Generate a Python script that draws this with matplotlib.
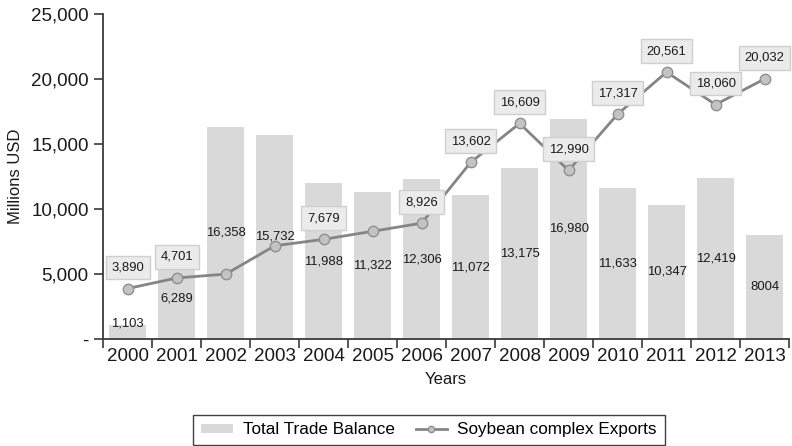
import numpy as np
import matplotlib.pyplot as plt
from matplotlib.ticker import FuncFormatter, FixedLocator

plt.rcParams['font.family'] = ['Liberation Sans', 'DejaVu Sans']

years = [2000, 2001, 2002, 2003, 2004, 2005, 2006, 2007, 2008, 2009, 2010, 2011, 2012, 2013]
trade_balance = [1103, 6289, 16358, 15732, 11988, 11322, 12306, 11072, 13175, 16980, 11633, 10347, 12419, 8004]
soy_exports = [3890, 4701, 5000, 7180, 7679, 8300, 8926, 13602, 16609, 12990, 17317, 20561, 18060, 20032]
# years whose export value gets no label box
unlabelled = [2002, 2003, 2005]

bar_color = "#d9d9d9"
line_color = "#858585"
axis_color = "#3a3a3a"

x = np.arange(len(years))

fig = plt.figure(figsize=(7.92, 4.46), dpi=100)
ax = fig.add_axes([0.1304, 0.2399, 0.8658, 0.7276])

bars = ax.bar(x, trade_balance, width=0.76, color=bar_color, zorder=1,
              label="Total Trade Balance")

# value labels sit in the middle of each bar (the smallest one near its top)
bar_labels = [f"{v:,}" for v in trade_balance]
bar_labels[-1] = str(trade_balance[-1])
for xi, v, txt in zip(x, trade_balance, bar_labels):
    ax.text(xi, max(v / 2, 1230), txt, ha="center", va="center",
            fontsize=9.4, color="#1a1a1a", zorder=2)

line, = ax.plot(x, soy_exports, color=line_color, lw=2, marker="o", markersize=7.5,
                markerfacecolor="#c3c3c3", markeredgecolor="#8f8f8f", markeredgewidth=1,
                zorder=3, label="Soybean complex Exports")

for xi, yr, v in zip(x, years, soy_exports):
    if yr in unlabelled:
        continue
    ax.annotate(f"{v:,}", (xi, v), xytext=(0, 15.2), textcoords="offset points",
                ha="center", va="center", fontsize=9.4, color="#1a1a1a", zorder=4,
                bbox=dict(boxstyle="square,pad=0.45", fc="#ebebeb", ec="#cfcfcf", lw=1))

ax.set_xlim(-0.5, len(years) - 0.5)
ax.set_ylim(0, 25000)

# ticks between categories, labels under the bars
ax.xaxis.set_major_locator(FixedLocator(np.arange(-0.5, len(years), 1.0)))
ax.xaxis.set_major_formatter(FuncFormatter(lambda v, p: ""))
ax.set_xticks(x, [str(y) for y in years], minor=True)
ax.tick_params(axis="x", which="major", length=6.5, width=1.2, color=axis_color)
ax.tick_params(axis="x", which="minor", length=0, labelsize=13.5, pad=6.5, labelcolor="#1a1a1a")

ax.set_yticks(np.arange(0, 25001, 5000))
ax.yaxis.set_major_formatter(FuncFormatter(lambda v, p: "-" if v == 0 else f"{int(v):,}"))
ax.tick_params(axis="y", length=6.5, width=1.2, color=axis_color, labelsize=13.5,
               pad=4, labelcolor="#1a1a1a")

for side in ["top", "right"]:
    ax.spines[side].set_visible(False)
for side in ["left", "bottom"]:
    ax.spines[side].set_color(axis_color)
    ax.spines[side].set_linewidth(1.3)

ax.set_xlabel("Years", fontsize=12, color="#1a1a1a", labelpad=5)
ax.set_ylabel("Millions USD", fontsize=12, color="#1a1a1a", labelpad=6)

leg = fig.legend([bars, line], ["Total Trade Balance", "Soybean complex Exports"],
                 loc="lower center", bbox_to_anchor=(0.5417, 0.0), ncol=2,
                 fontsize=12.3, frameon=True, fancybox=False, handlelength=1.85,
                 handleheight=0.5, handletextpad=0.6, columnspacing=1.2,
                 borderpad=0.45, borderaxespad=0.05, markerscale=0.6)
leg.get_frame().set_edgecolor("#111111")
leg.get_frame().set_linewidth(1.0)

fig.savefig("out.png", dpi=100)
